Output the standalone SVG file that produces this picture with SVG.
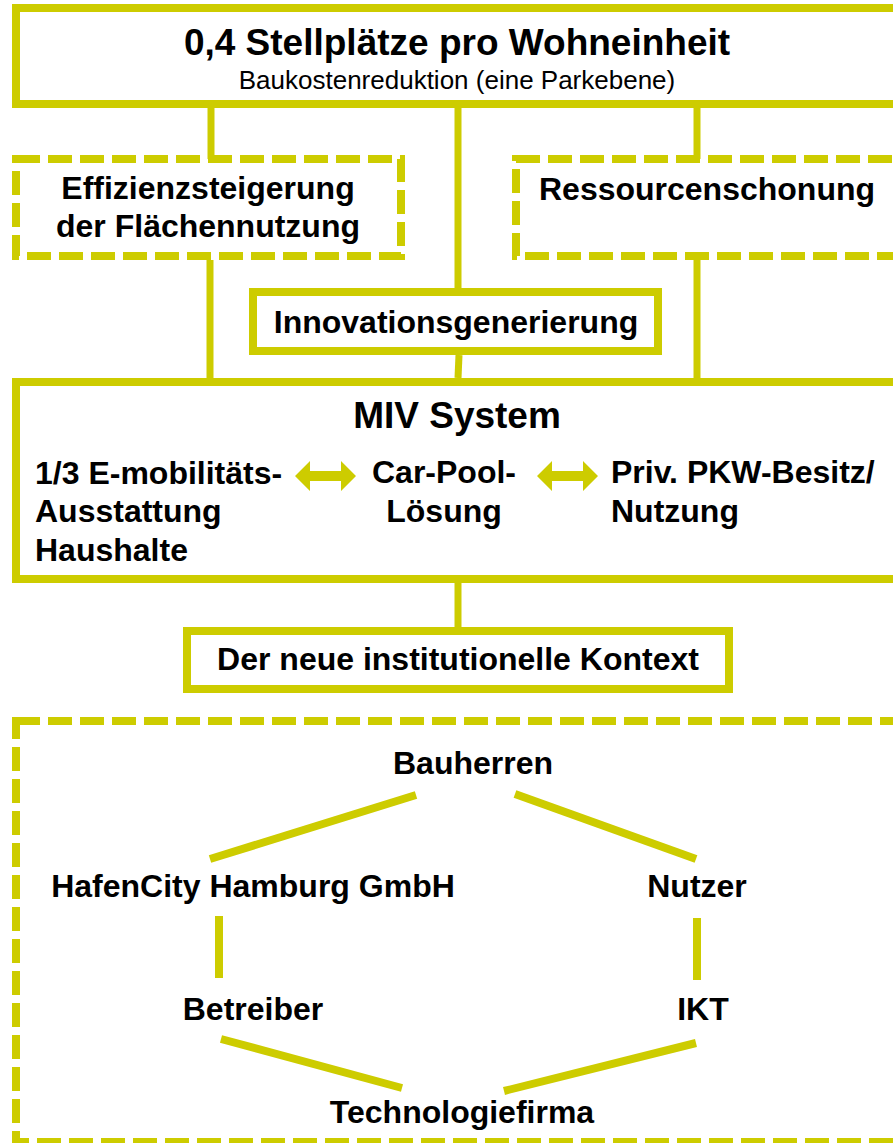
<svg xmlns="http://www.w3.org/2000/svg" width="893" height="1143" viewBox="0 0 893 1143">
<style>
.box{fill:#ffffff;stroke:#CDCC00;stroke-width:8}
.dash{fill:#ffffff;stroke:#CDCC00;stroke-width:8;stroke-dasharray:24 8}
.con{stroke:#CDCC00;stroke-width:7;fill:none}
.rel{stroke:#CDCC00;stroke-width:8;fill:none}
.t{font-family:"Liberation Sans",Arial,sans-serif;font-weight:bold;font-size:32px;fill:#000}
.big{font-family:"Liberation Sans",Arial,sans-serif;font-weight:bold;font-size:37px;fill:#000}
.sub{font-family:"Liberation Sans",Arial,sans-serif;font-size:26px;fill:#000}
.arr{fill:#CDCC00}
</style>
<rect width="893" height="1143" fill="#ffffff"/>
<g id="top">
<rect class="box" x="16" y="8" width="900" height="96"/>
<text class="big" x="457" y="55" text-anchor="middle">0,4 Stellplätze pro Wohneinheit</text>
<text class="sub" x="457" y="89" text-anchor="middle">Baukostenreduktion (eine Parkebene)</text>
</g>
<g id="effizienz">
<rect class="dash" x="16" y="159" width="385" height="97"/>
<text class="t" x="208" y="199" text-anchor="middle">Effizienzsteigerung</text>
<text class="t" x="208" y="237" text-anchor="middle">der Flächennutzung</text>
</g>
<g id="ressourcen">
<rect class="dash" x="516" y="159" width="400" height="97"/>
<text class="t" x="707" y="200" text-anchor="middle">Ressourcenschonung</text>
</g>
<g id="innovation">
<rect class="box" x="253" y="292" width="405" height="59"/>
<text class="t" x="456" y="333" text-anchor="middle">Innovationsgenerierung</text>
</g>
<g id="miv">
<rect class="box" x="16" y="382" width="900" height="197"/>
<text class="big" x="457" y="428" text-anchor="middle">MIV System</text>
<text class="t" x="35" y="484">1/3 E-mobilitäts-</text>
<text class="t" x="35" y="522">Ausstattung</text>
<text class="t" x="35" y="561">Haushalte</text>
<text class="t" x="444" y="483" text-anchor="middle">Car-Pool-</text>
<text class="t" x="444" y="522" text-anchor="middle">Lösung</text>
<text class="t" x="611" y="483">Priv. PKW-Besitz/</text>
<text class="t" x="611" y="522">Nutzung</text>
<polygon class="arr" points="295,476 310,461 310,471 341,471 341,461 356,476 341,491 341,481 310,481 310,491"/>
<polygon class="arr" points="537,476 552,461 552,471 583,471 583,461 598,476 583,491 583,481 552,481 552,491"/>
</g>
<g id="kontext">
<rect class="box" x="187" y="631" width="542" height="58"/>
<text class="t" x="458" y="670" text-anchor="middle">Der neue institutionelle Kontext</text>
</g>
<g id="akteure">
<rect class="dash" x="16" y="721" width="900" height="421"/>
</g>
<g id="bauherren"><text class="t" x="473" y="774" text-anchor="middle">Bauherren</text></g>
<g id="hafencity"><text class="t" x="253" y="897" text-anchor="middle">HafenCity Hamburg GmbH</text></g>
<g id="nutzer"><text class="t" x="697" y="897" text-anchor="middle">Nutzer</text></g>
<g id="betreiber"><text class="t" x="253" y="1020" text-anchor="middle">Betreiber</text></g>
<g id="ikt"><text class="t" x="703" y="1020" text-anchor="middle">IKT</text></g>
<g id="technologiefirma"><text class="t" x="462" y="1123" text-anchor="middle">Technologiefirma</text></g>
<g id="connectors">
<line class="con" x1="211" y1="108" x2="211" y2="159"/>
<line class="con" x1="458" y1="108" x2="458" y2="288"/>
<line class="con" x1="697" y1="108" x2="697" y2="159"/>
<line class="con" x1="210" y1="260" x2="210" y2="378"/>
<line class="con" x1="697" y1="260" x2="697" y2="378"/>
<line class="con" x1="459" y1="355" x2="458" y2="378"/>
<line class="con" x1="458" y1="583" x2="458" y2="627"/>
<line class="rel" x1="416" y1="795" x2="210" y2="859"/>
<line class="rel" x1="515" y1="794" x2="696" y2="859"/>
<line class="rel" x1="219" y1="916" x2="219" y2="978"/>
<line class="rel" x1="697" y1="918" x2="697" y2="980"/>
<line class="rel" x1="221" y1="1039" x2="402" y2="1088"/>
<line class="rel" x1="696" y1="1043" x2="504" y2="1091"/>
</g>
</svg>
